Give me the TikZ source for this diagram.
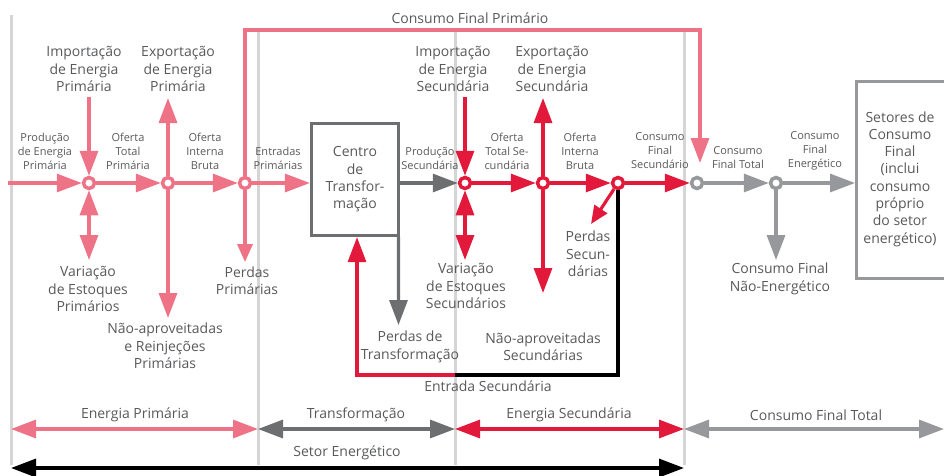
\documentclass[tikz,border=0pt]{standalone}
\usepackage{fontspec}
\setmainfont{Open Sans}
\usetikzlibrary{arrows.meta}
\definecolor{pk}{HTML}{EE7386}
\definecolor{rd}{HTML}{E3193B}
\definecolor{dg}{HTML}{6D6E70}
\definecolor{lg}{HTML}{97989B}
\definecolor{dv}{HTML}{D5D5D5}
\definecolor{tx}{HTML}{58595B}
\begin{document}
\begin{tikzpicture}[x=1pt,y=-1pt,
  lbl/.style={font=\fontsize{14}{17.3}\selectfont, text=tx, align=center, inner sep=0pt},
  sml/.style={font=\fontsize{11}{14}\selectfont, text=tx, align=center, inner sep=0pt},
  flow/.style={line width=3.2pt},
  tip/.style={-{Triangle[length=25pt,width=18pt]}},
  dtip/.style={{Triangle[length=25pt,width=18pt]}-{Triangle[length=25pt,width=18pt]}},
  stip/.style={-{Triangle[length=18pt,width=15pt]}},
  junc/.style={circle, draw, line width=3.5pt, fill=white, minimum size=11pt, inner sep=0pt},
  divider/.style={line width=3pt, dv}]
\useasboundingbox (0,0) rectangle (944,475);

% dividers
\draw[divider] (11,15) -- (11,465);
\draw[divider] (258,28) -- (258,465);
\draw[divider] (455,31) -- (455,465);
\draw[divider] (684,31) -- (684,465);

% junctions
\node[junc,draw=pk] (p1) at (89,183) {};
\node[junc,draw=pk] (p2) at (168,183) {};
\node[junc,draw=pk] (p3) at (245,183) {};
\node[junc,draw=rd] (s1) at (465,183) {};
\node[junc,draw=rd] (s2) at (543,183) {};
\node[junc,draw=rd] (s3) at (618,183) {};
\node[junc,draw=lg] (f1) at (697,183) {};
\node[junc,draw=lg] (f2) at (776,183) {};

% boxes
\node[lbl, draw=dg, line width=3.2pt, minimum width=87pt, minimum height=112pt] (ctr) at (355,179.5) {Centro\\de\\Transfor-\\mação};
\node[lbl] (setor) at (900,179) {Setores de\\Consumo\\Final\\(inclui\\consumo\\próprio\\do setor\\energético)};
\draw[flow,lg] (950,81.5) -- (856.5,81.5) -- (856.5,278.5) -- (950,278.5);

% coordinates
\coordinate (start) at (8,183);
\coordinate (impPs) at (89,97);
\coordinate (expPe) at (168,98);
\coordinate (varPe) at (89,260);
\coordinate (naoPe) at (168,318);
\coordinate (perdPe) at (245,262);
\coordinate (cfpA) at (245,30);
\coordinate (cfpB) at (700,30);
\coordinate (cfpE) at (700,163);
\coordinate (ptfE) at (398.5,325);
\coordinate (impSs) at (465,97);
\coordinate (expSe) at (543,98);
\coordinate (varSe) at (465,260);
\coordinate (naoSe) at (543,293);
\coordinate (perdSe) at (591,224);
\coordinate (es1) at (357,375);
\coordinate (es2) at (455,375);
\coordinate (sbox) at (855,183);
\coordinate (cfneE) at (776,260);
\coordinate (b0) at (11,429);
\coordinate (b1) at (258,429);
\coordinate (b2) at (455,429);
\coordinate (b3) at (684,429);
\coordinate (b4) at (944,429);
\coordinate (k0) at (11,468);
\coordinate (k1) at (684,468);

% primary (pink)
\draw[flow,pk,tip] (start) -- (p1);
\draw[flow,pk,tip] (p1) -- (p2);
\draw[flow,pk,tip] (p2) -- (p3);
\draw[flow,pk,tip] (p3) -- (p3 -| ctr.west);
\draw[flow,pk,tip] (impPs) -- (p1);
\draw[flow,pk,tip] (p2) -- (expPe);
\draw[flow,pk,dtip] (p1) -- (varPe);
\draw[flow,pk,tip] (p2) -- (naoPe);
\draw[flow,pk,stip] (p3) -- (perdPe);
\draw[flow,pk,tip] (p3) -- (cfpA) -- (cfpB) -- (cfpE);

% transformation (dark gray)
\draw[flow,dg,tip] (p3 -| ctr.east) -- (s1);
\draw[flow,dg,tip] ([xshift=-1.6pt]ctr.south east) -- (ptfE);

% secondary (red)
\draw[flow,rd,tip] (s1) -- (s2);
\draw[flow,rd,tip] (s2) -- (s3);
\draw[flow,rd,tip] (s3) -- (f1);
\draw[flow,rd,tip] (impSs) -- (s1);
\draw[flow,rd,tip] (s2) -- (expSe);
\draw[flow,rd,dtip] (s1) -- (varSe);
\draw[flow,rd,tip] (s2) -- (naoSe);
\draw[flow,rd,stip] (s3) -- (perdSe);
\draw[flow,rd,tip] (es2) -- (es1) -- (es1 |- ctr.south);
\draw[flow,black] (s3) -- (s3 |- es2) -- (es2);

% final (light gray)
\draw[flow,lg,tip] (f1) -- (f2);
\draw[flow,lg,tip] (f2) -- (sbox);
\draw[flow,lg,tip] (f2) -- (cfneE);

% bottom ranges
\draw[flow,pk,dtip] (b0) -- (b1);
\draw[flow,dg,dtip] (b1) -- (b2);
\draw[flow,rd,dtip] (b2) -- (b3);
\draw[flow,lg,dtip] (b3) -- (b4);
\draw[flow,black,dtip] (k0) -- (k1);

% labels
\node[lbl] (lcfp) at (470,18) {Consumo Final Primário};
\node[lbl] (limpP) at (84,69) {Importação\\de Energia\\Primária};
\node[lbl] (lexpP) at (178,69) {Exportação\\de Energia\\Primária};
\node[lbl] (limpS) at (453,69) {Importação\\de Energia\\Secundária};
\node[lbl] (lexpS) at (552,69) {Exportação\\de Energia\\Secundária};

\node[sml] (lprodP) at (45,151) {Produção\\de Energia\\Primária};
\node[sml] (lotp) at (128,151) {Oferta\\Total\\Primária};
\node[sml] (loib) at (205,151) {Oferta\\Interna\\Bruta};
\node[sml] (lent) at (278,158) {Entradas\\Primárias};
\node[sml] (lprodS) at (430,158) {Produção\\Secundária};
\node[sml] (lots) at (507,151) {Oferta\\Total Se-\\cundária};
\node[sml] (loibS) at (580,151) {Oferta\\Interna\\Bruta};
\node[sml] (lcfs) at (660,151) {Consumo\\Final\\Secundário};
\node[sml] (lcft) at (738,158) {Consumo\\Final Total};
\node[sml] (lcfe) at (815,151) {Consumo\\Final\\Energético};

\node[lbl] (lvarP) at (88,289) {Variação\\de Estoques\\Primários};
\node[lbl] (lperdP) at (247,281) {Perdas\\Primárias};
\node[lbl] (lnaoP) at (165,346) {Não-aproveitadas\\e Reinjeções\\Primárias};
\node[lbl] (lperdT) at (410,347) {Perdas de\\Transformação};
\node[lbl] (lvarS) at (466,286) {Variação\\de Estoques\\Secundários};
\node[lbl] (lnaoS) at (543,347) {Não-aproveitadas\\Secundárias};
\node[lbl] (lperdS) at (588,254) {Perdas\\Secun-\\dárias};
\node[lbl] (lcfne) at (780,279) {Consumo Final\\Não-Energético};
\node[lbl] (lentS) at (488,386) {Entrada Secundária};

\node[lbl] (lep) at (135,415) {Energia Primária};
\node[lbl] (ltr) at (356,415) {Transformação};
\node[lbl] (les) at (569,415) {Energia Secundária};
\node[lbl] (lcftot) at (816,415) {Consumo Final Total};
\node[lbl] (lse) at (347,453) {Setor Energético};
\end{tikzpicture}
\end{document}
